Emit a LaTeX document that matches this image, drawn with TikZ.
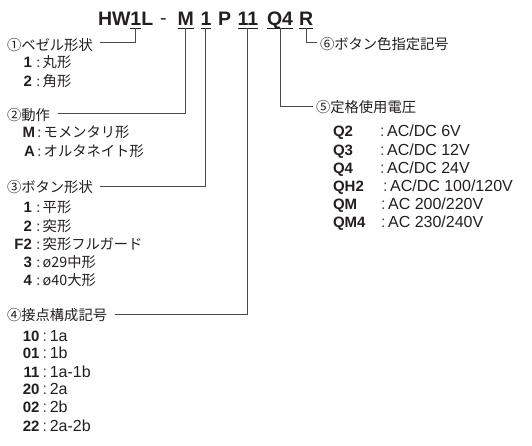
\documentclass[tikz,border=0pt]{standalone}
\usepackage{fontspec}
\setmainfont{Liberation Sans}
\newfontfamily\jp{Noto Sans CJK JP}
\definecolor{ink}{HTML}{231F20}
\definecolor{wire}{HTML}{4A4A4A}
\begin{document}
\begin{tikzpicture}[x=1pt,y=-1pt,
  every node/.style={inner sep=0pt,outer sep=0pt,text=ink},
  title/.style={anchor=base west,font=\fontsize{19.5}{20}\selectfont\bfseries},
  heading/.style={anchor=west,font=\jp\fontsize{14.3}{15}\selectfont},
  code/.style={anchor=base east,font=\fontsize{15}{16}\selectfont\bfseries},
  rcode/.style={anchor=base west,font=\fontsize{15}{16}\selectfont\bfseries},
  val/.style={anchor=base west,font=\fontsize{16}{17}\selectfont},
  jval/.style={anchor=base west,font=\jp\fontsize{14.3}{15}\selectfont},
  wireline/.style={draw=wire,line width=1pt},
  uline/.style={draw=ink,line width=1.1pt}
]
\useasboundingbox (0,0) rectangle (532,446);

% ---- title
\node[title] (tHW) at (98,26) {HW};
\node[title] (t1) at (tHW.base east) {1};
\node[title] (tL) at (t1.base east) {L};
\node[title,font=\fontsize{19.5}{20}\selectfont] (tdash) at (160,24.5) {-};
\node[title] (tM) at (177.5,26) {M};
\node[title] (tN) at (200.5,26) {1};
\node[title] (tP) at (218,26) {P};
\node[title] (tC) at (237.5,26) {11};
\node[title] (tQ) at (267,26) {Q4};
\node[title] (tR) at (299,26) {R};

\foreach \n in {t1,tM,tN,tC,tQ,tR}{
  \draw[uline] ([yshift=-2.5pt]\n.base west) -- ([yshift=-2.5pt]\n.base east);
  \coordinate (\n u) at ([yshift=-2.5pt]\n.base);
}

% ---- headings
\node[heading] (h1) at (7,45) {①ベゼル形状};
\node[heading] (h2) at (7,115) {②動作};
\node[heading] (h3) at (7,187) {③ボタン形状};
\node[heading] (h4) at (7,315) {④接点構成記号};
\node[heading] (h5) at (316,107) {⑤定格使用電圧};
\node[heading] (h6) at (320,44) {⑥ボタン色指定記号};

% ---- connector end points
\coordinate (e1) at (100,43);
\coordinate (e2) at (58,114);
\coordinate (e3) at (100,187);
\coordinate (e4) at (115,314);
\coordinate (e5) at (313,107);
\coordinate (e6) at (317,43);

\draw[wireline] (t1u) |- (e1);
\draw[wireline] (tMu) |- (e2);
\draw[wireline] (tNu) |- (e3);
\draw[wireline] (tCu) |- (e4);
\draw[wireline] (tQu) |- (e5);
\draw[wireline] (tRu) |- (e6);

% ---- section 1
\node[code] (c11) at (32,68) {1};
\node[jval] (v11) at (34,68) {\textcolor{wire}{\,:\,}丸形};
\node[code] (c12) at (32,87) {2};
\node[jval] (v12) at (34,87) {\textcolor{wire}{\,:\,}角形};

% ---- section 2
\node[code] (c21) at (35,138) {M};
\node[jval] (v21) at (35,138) {\textcolor{wire}{\,:\,}モメンタリ形};
\node[code] (c22) at (35,157) {A};
\node[jval] (v22) at (35,157) {\textcolor{wire}{\,:\,}オルタネイト形};

% ---- section 3
\node[code] (c31) at (32,212) {1};
\node[jval] (v31) at (34,212) {\textcolor{wire}{\,:\,}平形};
\node[code] (c32) at (32,231) {2};
\node[jval] (v32) at (34,231) {\textcolor{wire}{\,:\,}突形};
\node[code] (c33) at (32,249) {F2};
\node[jval] (v33) at (34,249) {\textcolor{wire}{\,:\,}突形フルガード};
\node[code] (c34) at (32,267) {3};
\node[jval] (v34) at (34,267) {\textcolor{wire}{\,:\,}ø29中形};
\node[code] (c35) at (32,285) {4};
\node[jval] (v35) at (34,285) {\textcolor{wire}{\,:\,}ø40大形};

% ---- section 4
\node[code] (c41) at (39.5,341) {10};
\node[val] (v41) at (40,341) {\textcolor{wire}{\,:\,}1a};
\node[code] (c42) at (39.5,358) {01};
\node[val] (v42) at (40,358) {\textcolor{wire}{\,:\,}1b};
\node[code] (c43) at (39.5,377) {11};
\node[val] (v43) at (40,377) {\textcolor{wire}{\,:\,}1a-1b};
\node[code] (c44) at (39.5,394) {20};
\node[val] (v44) at (40,394) {\textcolor{wire}{\,:\,}2a};
\node[code] (c45) at (39.5,412) {02};
\node[val] (v45) at (40,412) {\textcolor{wire}{\,:\,}2b};
\node[code] (c46) at (39.5,431) {22};
\node[val] (v46) at (40,431) {\textcolor{wire}{\,:\,}2a-2b};

% ---- section 5
\node[rcode] (c51) at (333,137) {Q2};
\node[val] (v51) at (380,137) {\textcolor{wire}{:\,}AC/DC 6V};
\node[rcode] (c52) at (333,156) {Q3};
\node[val] (v52) at (380,156) {\textcolor{wire}{:\,}AC/DC 12V};
\node[rcode] (c53) at (333,174) {Q4};
\node[val] (v53) at (380,174) {\textcolor{wire}{:\,}AC/DC 24V};
\node[rcode] (c54) at (333,192) {QH2};
\node[val] (v54) at (383,192) {\textcolor{wire}{:\,}AC/DC 100/120V};
\node[rcode] (c55) at (333,210) {QM};
\node[val] (v55) at (381,210) {\textcolor{wire}{:\,}AC 200/220V};
\node[rcode] (c56) at (333,228) {QM4};
\node[val] (v56) at (381,228) {\textcolor{wire}{:\,}AC 230/240V};
\end{tikzpicture}
\end{document}
